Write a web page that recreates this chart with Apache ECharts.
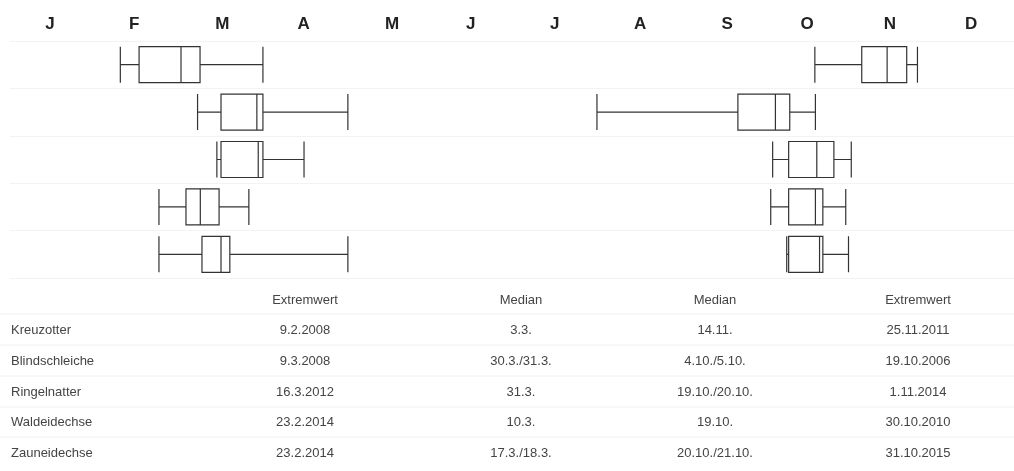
<!DOCTYPE html>
<html>
<head>
<meta charset="utf-8">
<script src="https://cdn.jsdelivr.net/npm/echarts@6/dist/echarts.min.js"></script>
<style>
  html, body { margin: 0; padding: 0; background: #ffffff; }
  #chart { width: 1014px; height: 471px; }
</style>
</head>
<body>
<div id="chart"></div>
<script>
// Species, top to bottom
const species = ['Kreuzotter', 'Blindschleiche', 'Ringelnatter', 'Waldeidechse', 'Zauneidechse'];

// Month letters and where each one sits on the day-of-year scale
const monthLabels = ['J', 'F', 'M', 'A', 'M', 'J', 'J', 'A', 'S', 'O', 'N', 'D'];
const monthPos = [14.5, 45, 77, 106.5, 138.5, 167, 197.5, 228.5, 260, 289, 319, 348.5];

// Table texts: earliest date in spring, spring median, autumn median, latest date in autumn
const tableHeader = ['Extremwert', 'Median', 'Median', 'Extremwert'];
const springExtreme = ['9.2.2008', '9.3.2008', '16.3.2012', '23.2.2014', '23.2.2014'];
const springMedian = ['3.3.', '30.3./31.3.', '31.3.', '10.3.', '17.3./18.3.'];
const autumnMedian = ['14.11.', '4.10./5.10.', '19.10./20.10.', '19.10.', '20.10./21.10.'];
const autumnExtreme = ['25.11.2011', '19.10.2006', '1.11.2014', '30.10.2010', '31.10.2015'];

// Remaining box values, as day of year
const springQ1 = [46.8, 76.5, 76.5, 63.8, 69.6];
const springQ3 = [68.9, 91.7, 91.7, 75.8, 79.7];
const springLast = [91.7, 122.5, 106.6, 86.6, 122.5];
const autumnFirst = [291.8, 212.8, 276.5, 275.8, 281.6];
const autumnQ1 = [308.8, 263.9, 282.3, 282.3, 282.3];
const autumnQ3 = [325.1, 282.7, 298.7, 294.7, 294.7];

// "d.m." or "d.m.yyyy", optionally two dates joined by "/", to day of year
const monthStart = [0, 31, 59, 90, 120, 151, 181, 212, 243, 273, 304, 334];
function dayOfYear(text) {
  const parts = text.split('/').map(function (s) {
    const p = s.split('.');
    return monthStart[parseInt(p[1], 10) - 1] + parseInt(p[0], 10);
  });
  return parts.reduce(function (a, b) { return a + b; }, 0) / parts.length;
}

const springData = species.map(function (_, i) {
  return [dayOfYear(springExtreme[i]), springQ1[i], dayOfYear(springMedian[i]), springQ3[i], springLast[i]];
});
const autumnData = species.map(function (_, i) {
  return [autumnFirst[i], autumnQ1[i], dayOfYear(autumnMedian[i]), autumnQ3[i], dayOfYear(autumnExtreme[i])];
});

// Table below the plot
const textFont = '13px "Liberation Sans", Arial, sans-serif';
const textColor = '#444444';
const colX = [305, 521, 715, 918];
const headerY = 300;
const rowY = [330, 361, 392, 422, 453];
const ruleY = [314, 345, 376, 407, 437];

const graphics = [];
tableHeader.forEach(function (t, c) {
  graphics.push({ type: 'text', x: colX[c], y: headerY,
    style: { text: t, font: textFont, fill: textColor, align: 'center', verticalAlign: 'middle' } });
});
ruleY.forEach(function (y) {
  graphics.push({ type: 'line', shape: { x1: 0, y1: y, x2: 1014, y2: y },
    style: { stroke: '#f0f0f0', lineWidth: 1 } });
});
species.forEach(function (name, r) {
  const cells = [springExtreme[r], springMedian[r], autumnMedian[r], autumnExtreme[r]];
  graphics.push({ type: 'text', x: 11, y: rowY[r],
    style: { text: name, font: textFont, fill: textColor, align: 'left', verticalAlign: 'middle' } });
  cells.forEach(function (t, c) {
    graphics.push({ type: 'text', x: colX[c], y: rowY[r],
      style: { text: t, font: textFont, fill: textColor, align: 'center', verticalAlign: 'middle' } });
  });
});

const chart = echarts.init(document.getElementById('chart'), null, { renderer: 'canvas' });

const yAxisBase = {
  type: 'category',
  data: species,
  inverse: true,
  axisLine: { show: false },
  axisTick: { show: false },
  axisLabel: { show: false }
};

const boxStyle = {
  color: '#ffffff',
  borderColor: '#333333',
  borderWidth: 1.2
};

chart.setOption({
  animation: false,
  backgroundColor: '#ffffff',
  grid: { left: 10, right: 0, top: 41, height: 237 },
  xAxis: {
    type: 'value',
    position: 'top',
    min: 0,
    max: 364,
    axisLine: { show: false },
    axisTick: { show: false },
    splitLine: { show: false },
    axisLabel: {
      customValues: monthPos,
      margin: 8,
      formatter: function (v) {
        const i = monthPos.indexOf(v);
        return i >= 0 ? monthLabels[i] : '';
      },
      fontFamily: '"Liberation Sans", Arial, sans-serif',
      fontWeight: 'bold',
      fontSize: 17,
      color: '#222222'
    }
  },
  yAxis: [
    Object.assign({}, yAxisBase, { splitLine: { show: true, lineStyle: { color: '#f3f3f3', width: 1 } } }),
    Object.assign({}, yAxisBase, { show: false, splitLine: { show: false } })
  ],
  series: [
    {
      name: 'Frühjahr',
      type: 'boxplot',
      yAxisIndex: 0,
      boxWidth: [36, 36],
      itemStyle: boxStyle,
      emphasis: { disabled: true },
      data: springData
    },
    {
      name: 'Herbst',
      type: 'boxplot',
      yAxisIndex: 1,
      boxWidth: [36, 36],
      itemStyle: boxStyle,
      emphasis: { disabled: true },
      data: autumnData
    }
  ],
  graphic: graphics
});
</script>
</body>
</html>
